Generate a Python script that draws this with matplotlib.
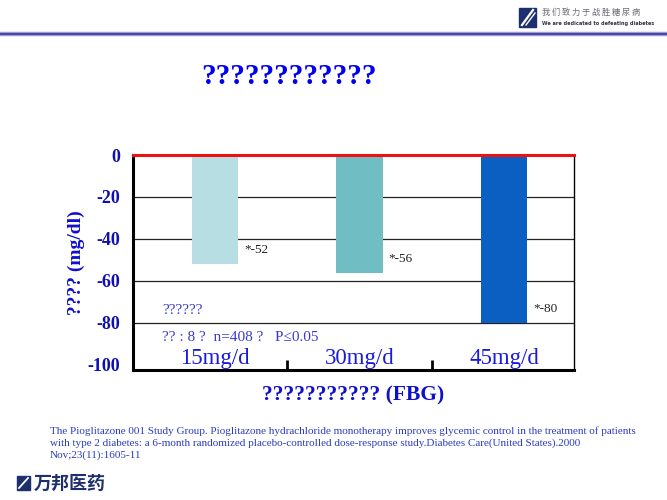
import matplotlib
matplotlib.use("Agg")
import matplotlib.pyplot as plt
from matplotlib.patches import Polygon

plt.rcParams['font.family'] = ['Liberation Serif', 'DejaVu Serif']

categories = ["15mg/d", "30mg/d", "45mg/d"]
values = [-52, -56, -80]
value_labels = ["*-52", "*-56", "*-80"]
bar_colors = ["#b7dee2", "#70bec4", "#0b5fc2"]
yticks = [0, -20, -40, -60, -80, -100]
title = "????????????"
ylabel = "???? (mg/dl)"
xlabel = "??????????? (FBG)"
note1 = "??????"
note2 = "?? : 8 ?  n=408 ?   P\u22640.05"
reference = ("The Pioglitazone 001 Study Group. Pioglitazone hydrachloride monotherapy improves glycemic control in the treatment of patients\n"
             "with type 2 diabetes: a 6-month randomized placebo-controlled dose-response study.Diabetes Care(United States).2000\n"
             "Nov;23(11):1605-11")
slogan_cn = "我们致力于战胜糖尿病"
slogan_en = "We are dedicated to defeating diabetes"
company = "万邦医药"

W, H = 667, 500
fig = plt.figure(figsize=(W/100, H/100), dpi=100)

def fx(x): return x / W
def fy(y): return 1 - y / H

# header line
fig.add_artist(plt.Line2D([0, 1], [fy(34), fy(34)], color="#9a9ad6", lw=3.2))
fig.add_artist(plt.Line2D([0, 1], [fy(34), fy(34)], color="#4646a0", lw=1.4))

# header logo
icon = Polygon([[fx(519), fy(8)], [fx(536), fy(8)], [fx(536), fy(27)], [fx(519), fy(27)]],
               closed=True, transform=fig.transFigure, color="#1d2f6e")
fig.add_artist(icon)
fig.add_artist(plt.Line2D([fx(522), fx(533)], [fy(25), fy(10)], color="white", lw=1.6))
fig.add_artist(plt.Line2D([fx(526), fx(535)], [fy(25), fy(13)], color="white", lw=1.0))
fig.text(fx(542), fy(12), " ".join(slogan_cn), fontsize=5.9, color="#6a6a78",
         family=['Noto Sans CJK SC', 'DejaVu Sans'], va="center", ha="left")
fig.text(fx(542), fy(23), slogan_en, fontsize=3.6, color="#333344",
         family=['DejaVu Sans'], fontweight="bold", va="center", ha="left")

# bottom logo
icon2 = Polygon([[fx(17), fy(476)], [fx(30), fy(476)], [fx(30), fy(490)], [fx(17), fy(490)]],
                closed=True, transform=fig.transFigure, color="#1d2f6e")
fig.add_artist(icon2)
fig.add_artist(plt.Line2D([fx(19), fx(28)], [fy(488), fy(478)], color="white", lw=1.3))
fig.text(fx(34), fy(483), company, fontsize=13, color="#1d2f6e", fontweight="bold",
         family=['Noto Sans CJK SC', 'DejaVu Sans'], va="center", ha="left")

# title
fig.text(fx(289), fy(77), title, fontsize=21, color="#0000ee", fontweight="bold",
         ha="center", va="center")

# reference
fig.text(fx(50), fy(443), reference, fontsize=8.0, color="#2a3cc0", ha="left", va="center",
         linespacing=1.35)

ax = fig.add_axes([fx(133), fy(370), fx(574) - fx(133), (370 - 155) / H])
x = list(range(len(categories)))
bw = 0.32
bars = ax.bar(x, values, width=bw, color=bar_colors, zorder=3)
ax.set_xlim(-0.567, 2.484)
ax.set_ylim(-102.4, 0)

for t in yticks[1:-1]:
    ax.axhline(t, color="#222222", lw=0.9, zorder=1)

for xi, v, lab in zip(x, values, value_labels):
    ax.annotate(lab, xy=(xi + bw / 2, v), xytext=(6, 14), textcoords="offset pixels",
                fontsize=9.5, color="#222222", ha="left", va="center")

for xi, c in zip(x, categories):
    ax.text(xi, -97, c, fontsize=16.5, color="#1a1add", ha="center", va="center", zorder=4)

ax.text(0.066, 0.279, note1, transform=ax.transAxes, fontsize=11, color="#3a3ad0",
        ha="left", va="center")
ax.text(0.066, 0.153, note2, transform=ax.transAxes, fontsize=11, color="#3a3ad0",
        ha="left", va="center")

ax.set_yticks(yticks)
ax.set_yticklabels([str(t) for t in yticks], fontsize=13, fontweight="bold", color="#1010b0")
ax.tick_params(axis="y", length=0, pad=9)
ax.set_xticks([0.5, 1.5])
ax.set_xticklabels([])
ax.tick_params(axis="x", direction="in", length=7, width=2, color="black")

for s in ["left", "bottom"]:
    ax.spines[s].set_linewidth(2.2)
ax.spines["right"].set_linewidth(1.0)
ax.spines["top"].set_visible(False)
ax.axhline(0, color="#ee1111", lw=2.2, zorder=5, clip_on=False)

ax.set_ylabel(ylabel, fontsize=14, fontweight="bold", color="#1010cc", labelpad=2)
ax.set_xlabel(xlabel, fontsize=15.5, fontweight="bold", color="#1010cc", labelpad=8)

fig.savefig("out.png", dpi=100)
